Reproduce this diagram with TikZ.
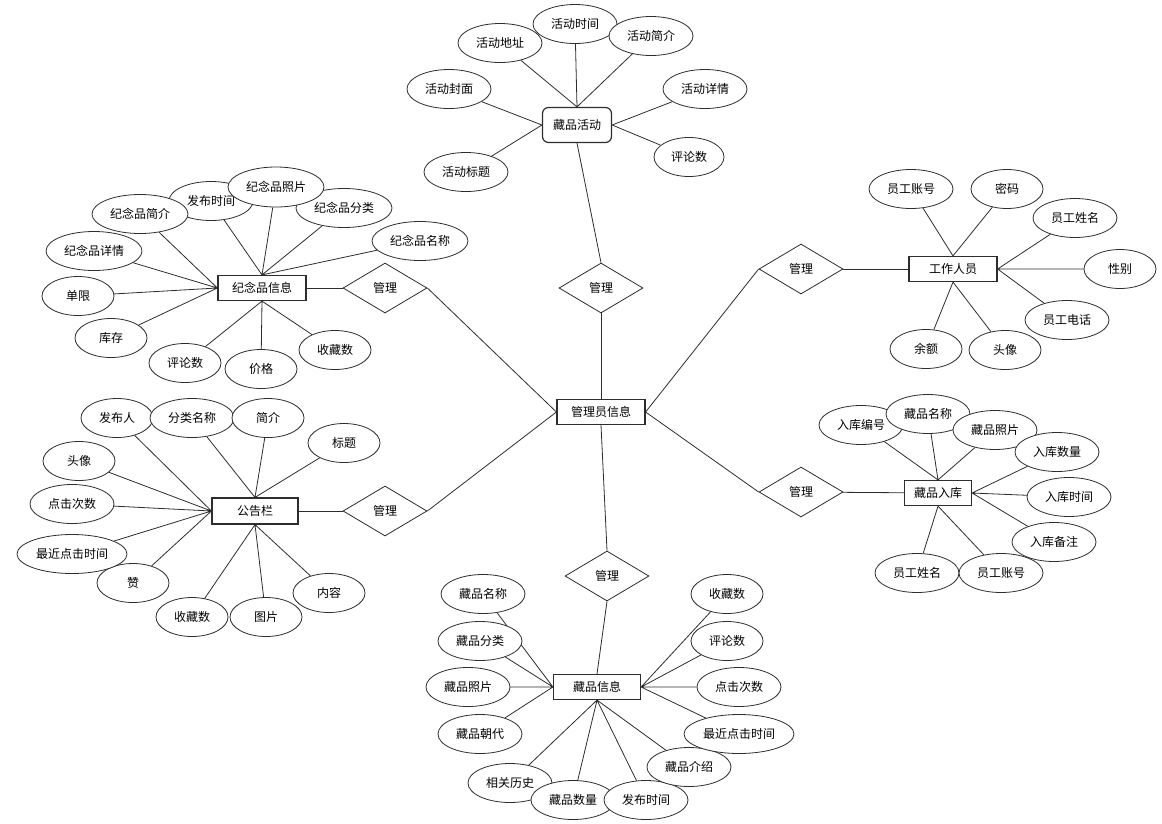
\documentclass[tikz,border=0pt]{standalone}
\usepackage{fontspec}
\newfontfamily\cjk{Noto Sans CJK SC}
\usepackage{tikz}
\usetikzlibrary{shapes.geometric, backgrounds}
\definecolor{linegray}{RGB}{45,45,45}

\begin{document}
\begin{tikzpicture}[x=1pt, y=-1pt,
  font=\cjk\fontsize{12}{14}\selectfont,
  attr/.style={ellipse, draw=linegray, fill=white, line width=0.8pt, inner sep=0pt,
               minimum width=#1, minimum height=39pt},
  attr/.default=84pt,
  entity/.style={rectangle, draw=linegray, fill=white, line width=1.2pt, inner sep=0pt,
                 minimum width=88pt, minimum height=25pt},
  rel/.style={diamond, draw=linegray, fill=white, line width=0.8pt, inner sep=0pt,
              minimum width=84pt, minimum height=50pt},
  link/.style={draw=linegray, line width=0.8pt}
]
  \useasboundingbox (0,0) rectangle (1162,823);

  % Centre entity
  \node[entity] (admin) at (601,412) {管理员信息};

  % Activity (top)
  \node[entity, rounded corners=6pt, minimum width=69pt, minimum height=35pt] (hd) at (577,125) {藏品活动};
  \node[attr] (hd_addr) at (500,43) {活动地址};
  \node[attr] (hd_time) at (575,24) {活动时间};
  \node[attr] (hd_intro) at (651,36) {活动简介};
  \node[attr] (hd_cover) at (449,89) {活动封面};
  \node[attr] (hd_detail) at (705,89) {活动详情};
  \node[attr=70pt] (hd_cmt) at (689,157) {评论数};
  \node[attr] (hd_title) at (466,172) {活动标题};
  \node[rel] (rel_hd) at (601,288) {管理};

  % Souvenir (upper left)
  \node[entity] (jn) at (262,288) {纪念品信息};
  \node[attr] (jn_time) at (211,201) {发布时间};
  \node[attr=96pt] (jn_intro) at (140,214) {纪念品简介};
  \node[attr=96pt] (jn_cat) at (344,208) {纪念品分类};
  \node[attr=96pt, minimum height=40pt] (jn_photo) at (276,187) {纪念品照片};
  \node[attr=96pt] (jn_name) at (420,241) {纪念品名称};
  \node[attr=96pt] (jn_detail) at (94,251) {纪念品详情};
  \node[attr=72pt] (jn_limit) at (78,296) {单限};
  \node[attr=72pt] (jn_stock) at (111,338) {库存};
  \node[attr=72pt] (jn_cmt) at (185,363) {评论数};
  \node[attr=72pt] (jn_price) at (261,369) {价格};
  \node[attr=72pt] (jn_fav) at (335,350) {收藏数};
  \node[rel] (rel_jn) at (385,288) {管理};

  % Notice board (lower left)
  \node[entity, minimum width=86pt, minimum height=26pt] (gg) at (255,511) {公告栏};
  \node[attr=72pt] (gg_author) at (117,418) {发布人};
  \node[attr] (gg_cat) at (192,418) {分类名称};
  \node[attr=72pt] (gg_intro) at (268,418) {简介};
  \node[attr=72pt] (gg_title) at (344,443) {标题};
  \node[attr=72pt] (gg_avatar) at (79,461) {头像};
  \node[attr] (gg_clicks) at (72,504) {点击次数};
  \node[attr=72pt] (gg_like) at (133,583) {赞};
  \node[attr=110pt] (gg_last) at (72,554) {最近点击时间};
  \node[attr=72pt] (gg_fav) at (192,617) {收藏数};
  \node[attr=72pt] (gg_pic) at (266,617) {图片};
  \node[attr=72pt] (gg_content) at (329,593) {内容};
  \node[rel] (rel_gg) at (385,511) {管理};

  % Staff (upper right)
  \node[entity] (gz) at (953,269) {工作人员};
  \node[attr] (gz_acct) at (911,189) {员工账号};
  \node[attr=72pt] (gz_pwd) at (1007,189) {密码};
  \node[attr] (gz_name) at (1075,218) {员工姓名};
  \node[attr=72pt] (gz_sex) at (1120,269) {性别};
  \node[attr] (gz_phone) at (1067,320) {员工电话};
  \node[attr=72pt] (gz_bal) at (926,349) {余额};
  \node[attr=72pt] (gz_avatar) at (1005,350) {头像};
  \node[rel] (rel_gz) at (801,269) {管理};

  % Stock-in (lower right)
  \node[entity, minimum width=67pt] (rk) at (938,493) {藏品入库};
  \node[attr] (rk_no) at (861,425) {入库编号};
  \node[attr] (rk_name) at (928,414) {藏品名称};
  \node[attr] (rk_photo) at (995,430) {藏品照片};
  \node[attr] (rk_qty) at (1057,452) {入库数量};
  \node[attr] (rk_time) at (1069,497) {入库时间};
  \node[attr] (rk_note) at (1054,542) {入库备注};
  \node[attr] (rk_staff) at (917,573) {员工姓名};
  \node[attr] (rk_acct) at (1001,573) {员工账号};
  \node[rel] (rel_rk) at (801,492) {管理};

  % Collection (bottom)
  \node[entity, minimum width=87pt] (cp) at (597,687) {藏品信息};
  \node[rel] (rel_cp) at (607,576) {管理};
  \node[attr] (cp_name) at (483,594) {藏品名称};
  \node[attr] (cp_cat) at (480,641) {藏品分类};
  \node[attr] (cp_photo) at (468,687) {藏品照片};
  \node[attr] (cp_dyn) at (480,734) {藏品朝代};
  \node[attr] (cp_hist) at (510,783) {相关历史};
  \node[attr] (cp_qty) at (573,800) {藏品数量};
  \node[attr] (cp_time) at (646,800) {发布时间};
  \node[attr] (cp_intro) at (689,767) {藏品介绍};
  \node[attr=110pt] (cp_last) at (739,734) {最近点击时间};
  \node[attr] (cp_clicks) at (739,687) {点击次数};
  \node[attr=72pt] (cp_cmt) at (727,641) {评论数};
  \node[attr=72pt] (cp_fav) at (727,594) {收藏数};

  \begin{scope}[on background layer]
    % Activity links
    \draw[link] (hd_addr) -- (hd.north) (hd_time) -- (hd.north) (hd_intro) -- (hd.north);
    \draw[link] (hd_cover) -- (hd.west) (hd_title) -- (hd.west);
    \draw[link] (hd_detail) -- (hd.east) (hd_cmt) -- (hd.east);
    \draw[link] (hd.south) -- (rel_hd.north);
    \draw[link] (rel_hd.south) -- (admin.north);

    % Souvenir links
    \draw[link] (jn_time) -- (jn.north) (jn_photo) -- (jn.north)
                (jn_cat) -- (jn.north) (jn_name) -- (jn.north);
    \draw[link] (jn_intro) -- (jn.west) (jn_detail) -- (jn.west)
                (jn_limit) -- (jn.west) (jn_stock) -- (jn.west);
    \draw[link] (jn_cmt) -- (jn.south) (jn_price) -- (jn.south) (jn_fav) -- (jn.south);
    \draw[link] (jn) -- (rel_jn);
    \draw[link] (rel_jn.east) -- (admin.west);

    % Notice board links
    \draw[link] (gg_author) -- (gg.west) (gg_avatar) -- (gg.west) (gg_clicks) -- (gg.west)
                (gg_last) -- (gg.west) (gg_like) -- (gg.west);
    \draw[link] (gg_cat) -- (gg.north) (gg_intro) -- (gg.north) (gg_title) -- (gg.north);
    \draw[link] (gg_fav) -- (gg.south) (gg_pic) -- (gg.south) (gg_content) -- (gg.south);
    \draw[link] (gg) -- (rel_gg);
    \draw[link] (rel_gg.east) -- (admin.west);

    % Staff links
    \draw[link] (gz_acct) -- (gz.north) (gz_pwd) -- (gz.north);
    \draw[link] (gz_name) -- (gz.east) (gz_sex) -- (gz.east) (gz_phone) -- (gz.east);
    \draw[link] (gz_bal) -- (gz.south) (gz_avatar) -- (gz.south);
    \draw[link] (rel_gz) -- (gz);
    \draw[link] (rel_gz.west) -- (admin.east);

    % Stock-in links
    \draw[link] (rk_no) -- (rk.north) (rk_name) -- (rk.north) (rk_photo) -- (rk.north);
    \draw[link] (rk_qty) -- (rk.east) (rk_time) -- (rk.east) (rk_note) -- (rk.east);
    \draw[link] (rk_staff) -- (rk.south) (rk_acct) -- (rk.south);
    \draw[link] (rel_rk) -- (rk);
    \draw[link] (rel_rk.west) -- (admin.east);

    % Collection links
    \draw[link] (admin.south) -- (rel_cp.north);
    \draw[link] (rel_cp.south) -- (cp.north);
    \draw[link] (cp_name) -- (cp.west) (cp_cat) -- (cp.west)
                (cp_photo) -- (cp.west) (cp_dyn) -- (cp.west);
    \draw[link] (cp_hist) -- (cp.south) (cp_qty) -- (cp.south)
                (cp_time) -- (cp.south) (cp_intro) -- (cp.south);
    \draw[link] (cp_last) -- (cp.east) (cp_clicks) -- (cp.east)
                (cp_cmt) -- (cp.east) (cp_fav) -- (cp.east);
  \end{scope}
\end{tikzpicture}
\end{document}
